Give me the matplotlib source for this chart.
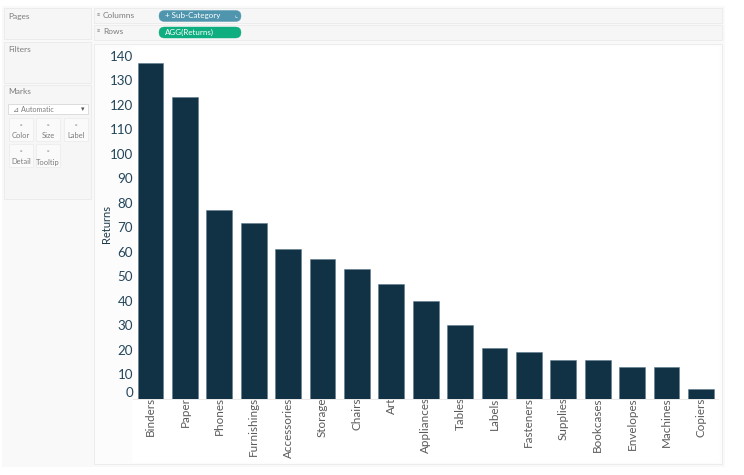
import matplotlib
matplotlib.use("Agg")
import matplotlib.pyplot as plt
from matplotlib.patches import Rectangle, FancyBboxPatch
from matplotlib.transforms import ScaledTranslation

categories = ["Binders", "Paper", "Phones", "Furnishings", "Accessories", "Storage", "Chairs", "Art",
              "Appliances", "Tables", "Labels", "Fasteners", "Supplies", "Bookcases", "Envelopes",
              "Machines", "Copiers"]
returns = [137, 123, 77, 72, 61, 57, 53, 47, 40, 30, 21, 19, 16, 16, 13, 13, 4]
y_ticks = list(range(0, 150, 10))

W, H = 744, 475
plt.rcParams['font.family'] = ['Lato', 'DejaVu Sans']
fig = plt.figure(figsize=(W / 100, H / 100), dpi=100, facecolor='white')

# Tableau window chrome, in pixel coordinates
ui = fig.add_axes([0, 0, 1, 1])
ui.set_xlim(0, W)
ui.set_ylim(H, 0)
ui.axis('off')
PANEL = '#f6f6f6'
EDGE = '#ececec'
GREY = '#7d7d7d'
def box(x0, y0, x1, y1, fc=PANEL, ec=EDGE):
    ui.add_patch(Rectangle((x0, y0), x1 - x0, y1 - y0, fc=fc, ec=ec, lw=0.7))
box(2, 6, 724, 466, fc='#f9f9f9', ec='#f9f9f9')
box(4, 8, 91, 39)
box(4, 42, 91, 83)
box(4, 85, 91, 199)
box(94, 8, 722, 23)
box(94, 25, 722, 40)
box(94, 44, 722, 464, fc='#fcfcfc')
box(132, 46, 719, 462, fc='white', ec='white')
def label(x, y, s, size=6, color=GREY, **kw):
    ui.text(x, y, s, fontsize=size, color=color, va='center', **kw)
label(8, 16, 'Pages')
label(8, 49, 'Filters')
label(8, 92, 'Marks')
label(103, 15.5, 'Columns')
label(103, 32, 'Rows')
label(97, 15.5, '≡', size=4)
label(97, 32, '≡', size=4)
for x, y, w, h, c in [(159, 10.5, 82, 11, '#4e95ad'), (159, 27, 82, 11, '#0fae80')]:
    ui.add_patch(FancyBboxPatch((x, y), w, h, boxstyle='round,pad=0,rounding_size=5.5',
                                fc=c, ec=c, lw=0.3))
label(165, 15.5, '+ Sub-Category', size=5.8, color='white')
label(165, 32, 'AGG(Returns)', size=5.8, color='white')
label(234, 16, '⌞', size=4.5, color='white')
box(8, 104, 88, 114, fc='white', ec='#dddddd')
label(13, 109, '⊿ Automatic', size=5.2)
label(81, 109, '▾', size=5, color='#555555')
for x0, y0, name in [(9, 118, 'Color'), (36, 118, 'Size'), (64, 118, 'Label'),
                     (9, 144, 'Detail'), (36, 144, 'Tooltip')]:
    box(x0, y0, x0 + 24, y0 + 23, fc='#fafafa', ec='#eeeeee')
    ui.text(x0 + 12, y0 + 8, '▫', fontsize=4.5, color='#999999', ha='center', va='center')
    ui.text(x0 + 12, y0 + 18, name, fontsize=5.4, color=GREY, ha='center', va='center')

# Chart
L, R, T, B = 133, 718, 46, 399
ax = fig.add_axes([L / W, 1 - B / H, (R - L) / W, (B - T) / H])
ax.patch.set_alpha(0)
ax.bar(range(len(categories)), returns, width=0.75, color='#113245', edgecolor='#5f7d8c', linewidth=0.4)
ax.set_xlim(-0.51, 16.5)
ax.set_ylim(0, 144)
ax.set_yticks(y_ticks)
ax.set_xticks(range(len(categories)))
ax.set_xticklabels(categories, rotation=90, fontsize=8.4, color='#5a5a5a')
ax.tick_params(axis='both', length=0)
ax.tick_params(axis='y', labelsize=9.6, labelcolor='#24465a', pad=0)
ax.tick_params(axis='x', pad=-1.2)
ax.get_yticklabels()[0].set_transform(ax.get_yticklabels()[0].get_transform()
                                      + ScaledTranslation(0, 7 / 100, fig.dpi_scale_trans))
for s in ['top', 'right', 'left']:
    ax.spines[s].set_visible(False)
ax.spines['bottom'].set_color('#e6e6e6')
ax.spines['bottom'].set_linewidth(0.6)
fig.text(106 / W, 1 - 224 / H, 'Returns', rotation=90, fontsize=8, color='#1d3a4c', ha='center', va='center')

fig.savefig('out.png', dpi=100)
